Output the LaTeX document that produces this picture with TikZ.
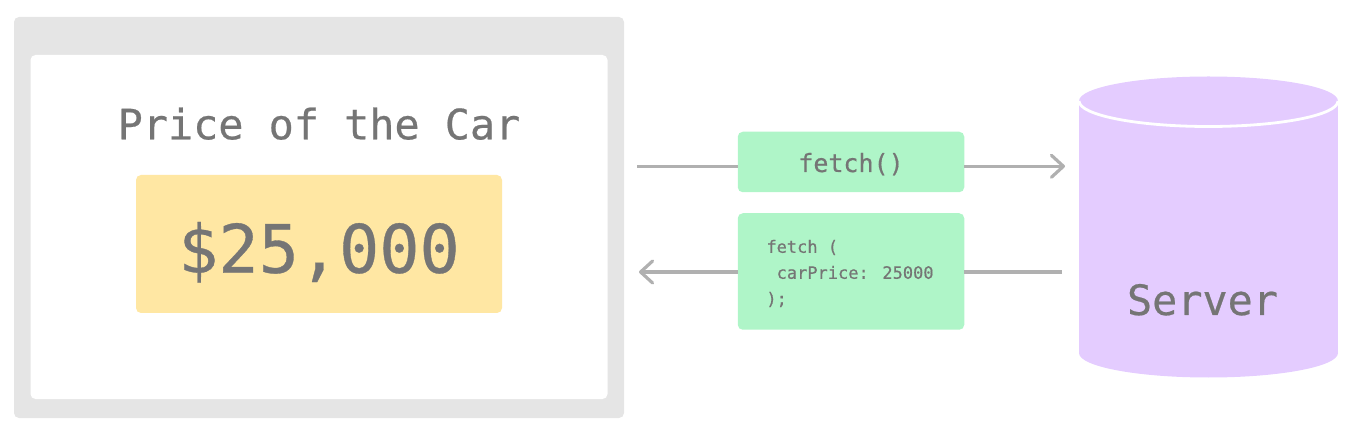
\documentclass[tikz,border=0pt]{standalone}
\usepackage{fontspec}
\newfontfamily\codefont[FakeBold=0.5]{DejaVu Sans Mono}
\usepackage{tikz}
\usetikzlibrary{shapes.geometric, arrows.meta, positioning}
\definecolor{framegray}{HTML}{E5E5E5}
\definecolor{textgray}{HTML}{757575}
\definecolor{pricefill}{HTML}{FFE7A3}
\definecolor{msgfill}{HTML}{AFF5C8}
\definecolor{serverfill}{HTML}{E4CCFF}
\definecolor{linegray}{HTML}{B0B0B0}

\begin{document}
\begin{tikzpicture}[
    x=1pt, y=1pt,
    base/.style={rectangle, rounded corners=5pt, align=center, inner sep=0pt, outer sep=0pt, text=textgray},
    textonly/.style={inner sep=0pt, outer sep=0pt, text=textgray},
    serverpart/.style={fill=serverfill, inner sep=0pt, outer sep=0pt, minimum width=259pt},
    conn/.style={draw=linegray, line width=3.2pt},
    arrow/.style={conn, -{Straight Barb[length=12pt, width=22pt, round]}}
]
\useasboundingbox (0,0) rectangle (1363,-446);

% Browser
\node[base, fill=framegray, minimum width=610pt, minimum height=401pt] (browser) at (319,-217.5) {};
\node[base, fill=white, minimum width=577pt, minimum height=344pt, below=38pt of browser.north, anchor=north] (screen) {};
\node[textonly, font=\codefont\fontsize{41.8}{50}\selectfont, below=84.3pt of screen.north, anchor=base] (title) {Price of the Car};
\node[base, fill=pricefill, font=\codefont\fontsize{66.8}{80}\selectfont, text height=60pt, text depth=2.6pt, minimum width=366pt, minimum height=138pt, below=120pt of screen.north, anchor=north] (price) {\$25,000};

% Mensajes
\node[base, fill=msgfill, font=\codefont\fontsize{25}{30}\selectfont, text height=22pt, text depth=2pt, minimum width=226.5pt, minimum height=60.5pt] (request) at (851,-162) {fetch()};
\node[base, fill=msgfill, minimum width=226.5pt, minimum height=116.5pt, below=21pt of request] (response) {};
\node[textonly, font=\codefont\fontsize{17}{26}\selectfont, align=left, xshift=-1pt, yshift=-2pt] (responsetext) at (response.center) {fetch (\\~carPrice: 25000\\);};

% Servidor
\node[serverpart, rectangle, minimum height=252pt] (server) at (1208.5,-227) {};
\node[serverpart, ellipse, minimum height=49pt] (serverbottom) at (server.south) {};
\node[serverpart, ellipse, minimum height=49pt] (servertop) at (server.north) {};
\draw[white, line width=2.8pt] (servertop.west) arc[start angle=180, end angle=360, x radius=129.5pt, y radius=25.5pt];
\node[textonly, font=\codefont\fontsize{41.8}{50}\selectfont, above=38pt of server.south, anchor=base, xshift=-6pt] (serverlabel) {Server};

% Flechas
\coordinate (reqstart) at (637,-166.3);
\coordinate (reqend) at (1065,-166.3);
\coordinate (resstart) at (1062,-272);
\coordinate (resend) at (639,-272);
\draw[conn] (reqstart) -- (request.west |- reqstart);
\draw[arrow] (request.east |- reqend) -- (reqend);
\draw[conn] (resstart) -- (response.east |- resstart);
\draw[arrow] (response.west |- resend) -- (resend);

\end{tikzpicture}
\end{document}
